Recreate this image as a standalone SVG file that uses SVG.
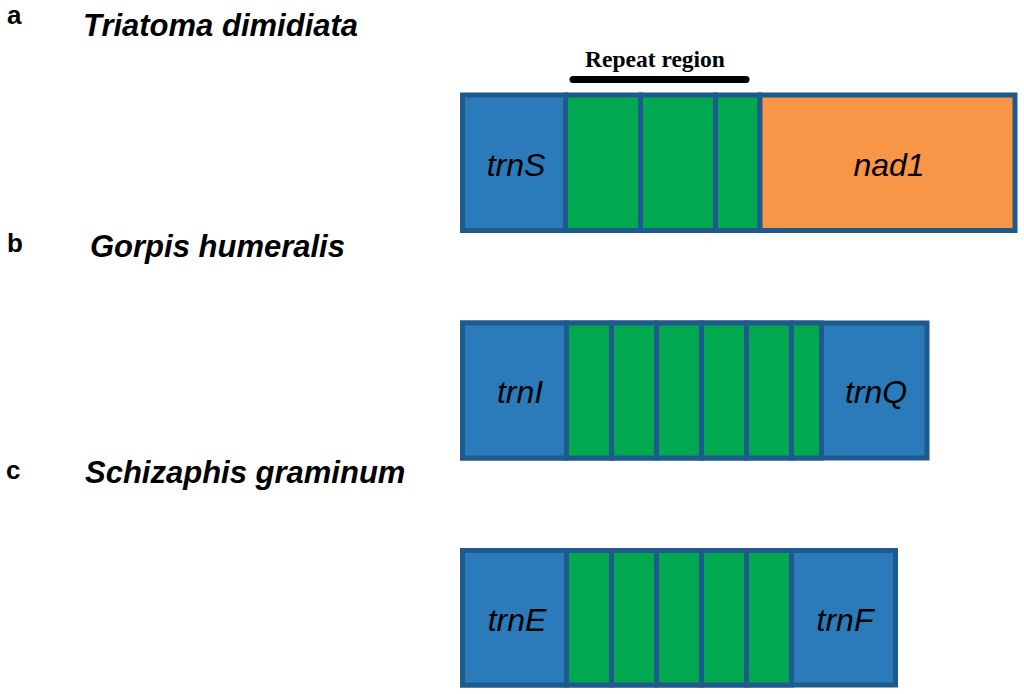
<svg xmlns="http://www.w3.org/2000/svg" width="1024" height="694" viewBox="0 0 1024 694">
<style>
.b{fill:#2B7BBA;stroke:#1E5A8C;stroke-width:5}
.g{fill:#00A84F;stroke:#1E5A8C;stroke-width:5}
.o{fill:#F99546;stroke:#1E5A8C;stroke-width:5}
.lbl{font-family:"Liberation Sans",Arial,sans-serif;font-style:italic;font-size:32px;fill:#000;text-anchor:middle}
.ttl{font-family:"Liberation Sans",Arial,sans-serif;font-style:italic;font-weight:bold;font-size:31px;fill:#000}
.let{font-family:"Liberation Sans",Arial,sans-serif;font-weight:bold;font-size:26px;fill:#000}
</style>
<rect width="1024" height="694" fill="#fff"/>
<g id="titles">
<text class="let" x="7" y="24">a</text>
<text class="ttl" x="83" y="36">Triatoma dimidiata</text>
<text class="let" x="7" y="252">b</text>
<text class="ttl" x="90" y="257">Gorpis humeralis</text>
<text class="let" x="6" y="479">c</text>
<text class="ttl" x="85" y="483">Schizaphis graminum</text>
</g>
<g id="repeat-label">
<text x="655" y="67" text-anchor="middle" font-family="'Liberation Serif','Times New Roman',serif" font-weight="bold" font-size="23.5">Repeat region</text>
<line x1="573" y1="79.5" x2="746" y2="79.5" stroke="#000" stroke-width="7" stroke-linecap="round"/>
</g>
<g id="row-a">
<rect class="b" x="462.5" y="95" width="103" height="135.5"/>
<rect class="g" x="565.5" y="95" width="75" height="135.5"/>
<rect class="g" x="640.5" y="95" width="75" height="135.5"/>
<rect class="g" x="715.5" y="95" width="44.5" height="135.5"/>
<rect class="o" x="760" y="95" width="255" height="135.5"/>
<text class="lbl" x="516" y="176">trnS</text>
<text class="lbl" x="889" y="176">nad1</text>
</g>
<g id="row-b">
<rect class="b" x="462.5" y="323" width="464.5" height="135"/>
<rect class="b" x="462.5" y="323" width="104" height="135"/>
<rect class="g" x="566.5" y="323" width="45" height="135"/>
<rect class="g" x="611.5" y="323" width="45" height="135"/>
<rect class="g" x="656.5" y="323" width="45" height="135"/>
<rect class="g" x="701.5" y="323" width="45" height="135"/>
<rect class="g" x="746.5" y="323" width="45" height="135"/>
<rect class="g" x="791.5" y="323" width="30" height="135"/>
<text class="lbl" x="520" y="403">trnI</text>
<text class="lbl" x="876" y="403">trnQ</text>
</g>
<g id="row-c">
<rect class="b" x="462.5" y="550.5" width="433" height="134.5"/>
<rect class="b" x="462.5" y="550.5" width="104" height="134.5"/>
<rect class="g" x="566.5" y="550.5" width="45" height="134.5"/>
<rect class="g" x="611.5" y="550.5" width="45" height="134.5"/>
<rect class="g" x="656.5" y="550.5" width="45" height="134.5"/>
<rect class="g" x="701.5" y="550.5" width="45" height="134.5"/>
<rect class="g" x="746.5" y="550.5" width="45" height="134.5"/>
<text class="lbl" x="517" y="631">trnE</text>
<text class="lbl" x="845" y="631">trnF</text>
</g>
</svg>
